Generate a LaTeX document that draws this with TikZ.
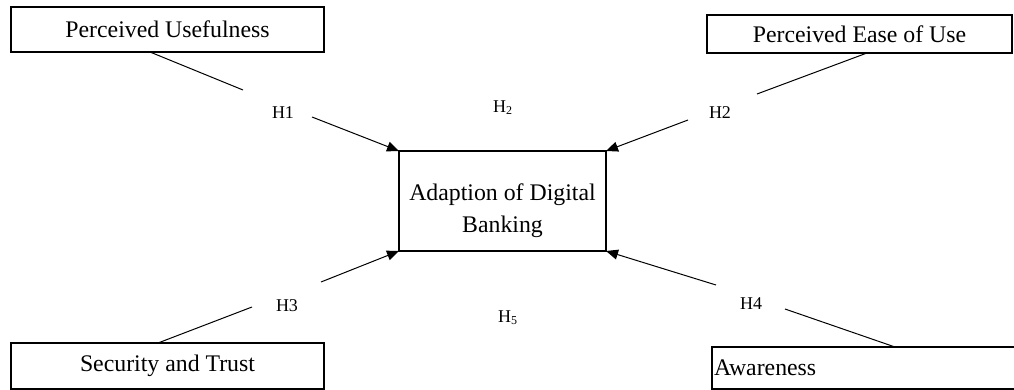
\documentclass[tikz,border=0pt]{standalone}
\usepackage{fontspec}
\setmainfont{Liberation Serif}
\usetikzlibrary{arrows.meta,positioning}

\begin{document}
\begin{tikzpicture}[x=0.5pt, y=-0.5pt,
  box/.style={draw, line width=0.9pt, inner sep=0pt, outer sep=0pt, font=\fontsize{11.9}{16}\selectfont},
  hyp/.style={inner sep=0pt, font=\fontsize{9}{10}\selectfont},
  >={Triangle[length=6pt, width=5pt]}, line width=0.5pt]
\useasboundingbox (0,0) rectangle (1014,390);
% constructs
\node[box, minimum width=156.5pt, minimum height=22.5pt] (pu) at (167.5,29.5) {Perceived Usefulness};
\node[box, minimum width=152.5pt, minimum height=19pt] (peu) at (859.5,34) {Perceived Ease of Use};
\node[box, minimum width=103.5pt, minimum height=50pt] (adb) at (502.5,201) {};
\node[align=center, font=\fontsize{11.9}{16}\selectfont] (adbtext) at ([yshift=-5pt]adb.center) {Adaption of Digital\\Banking};
\node[box, minimum width=156.5pt, minimum height=23pt] (st) at (167.5,366) {Security and Trust};
\node[box, anchor=north west, minimum height=21pt, text width=165pt, align=left, inner xsep=1pt] (aw) at (712,347) {Awareness};
% hypotheses
\node[hyp] (h1) at (283,113) {H1};
\node[hyp] (h2) at (720,113) {H2};
\node[hyp] (h3) at (287,306) {H3};
\node[hyp] (h4) at (751,304) {H4};
\node[hyp] (h2top) at (503,108) {H\textsubscript{2}};
\node[hyp] (h5) at (508,318) {H\textsubscript{5}};
\coordinate (h1in) at (243,90);  \coordinate (h1out) at (312,117);
\coordinate (h2in) at (757,94);  \coordinate (h2out) at (688,120);
\coordinate (h3in) at (252,307); \coordinate (h3out) at (321,282);
\coordinate (h4in) at (785,309); \coordinate (h4out) at (716,285);
\draw ([xshift=-8.75pt]pu.south) -- (h1in);
\draw[->] (h1out) -- (adb.north west);
\draw ([xshift=3.75pt]peu.south) -- (h2in);
\draw[->] (h2out) -- (adb.north east);
\draw ([xshift=-4.75pt]st.north) -- (h3in);
\draw[->] (h3out) -- (adb.south west);
\draw ([xshift=91.5pt]aw.north west) -- (h4in);
\draw[->] (h4out) -- (adb.south east);
\end{tikzpicture}
\end{document}
